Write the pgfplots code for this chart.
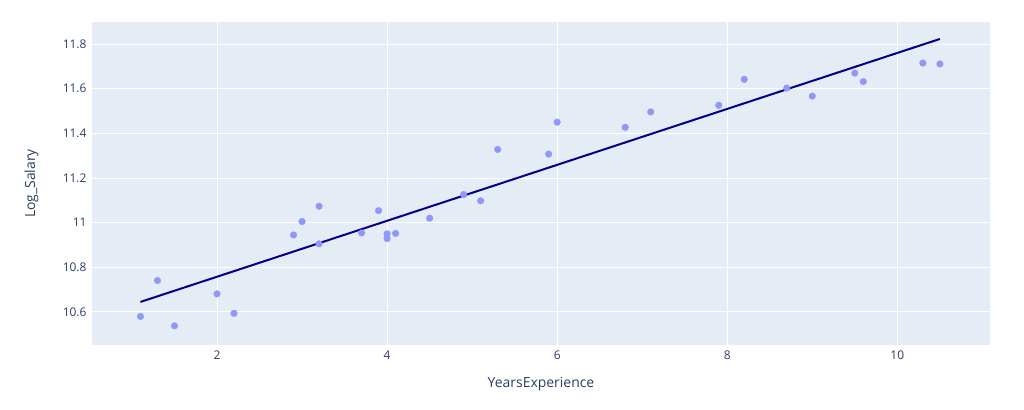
\documentclass[border=0pt]{standalone}
\usepackage{pgfplots}
\pgfplotsset{compat=1.18}
\usepackage{fontspec}
\setmainfont{Open Sans}
\definecolor{plotbg}{HTML}{E5ECF6}
\definecolor{txt}{HTML}{2A3F5F}
\definecolor{mk}{HTML}{8F97F7}
\definecolor{ln}{HTML}{00008B}
\begin{document}
\begin{tikzpicture}[x=1bp,y=1bp]
\useasboundingbox (0,0) rectangle (1024,409);
\begin{axis}[
  at={(92bp,64bp)}, anchor=south west,
  scale only axis, width=898bp, height=323bp,
  xmin=0.53, xmax=11.09, ymin=10.452, ymax=11.899,
  axis background/.style={fill=plotbg},
  axis line style={draw=none},
  major tick length=0pt,
  grid=major, grid style={white, line width=1bp},
  xtick={2,4,6,8,10},
  ytick={10.6,10.8,11,11.2,11.4,11.6,11.8},
  /pgf/number format/assume math mode=true,
  ticklabel style={font=\fontsize{12}{14}\selectfont, text=txt},
  xticklabel style={yshift=-2bp},
  yticklabel style={xshift=-2bp},
  xlabel={YearsExperience}, ylabel={Log\_Salary},
  label style={font=\fontsize{14}{16}\selectfont, text=txt},
  xlabel style={at={(axis description cs:0.5,0)}, anchor=north, yshift=-29bp},
  ylabel style={at={(axis description cs:0,0.5)}, anchor=south, yshift=50bp},
  clip=false,
]
\addplot[only marks, mark=*, color=mk, mark size=3.3bp] coordinates {
(1.1,10.580) (1.3,10.741) (1.5,10.538) (2.0,10.681) (2.2,10.594)
(2.9,10.945) (3.0,11.005) (3.2,10.905) (3.2,11.074) (3.7,10.954)
(3.9,11.054) (4.0,10.929) (4.0,10.950) (4.1,10.952) (4.5,11.020)
(4.9,11.126) (5.1,11.098) (5.3,11.328) (5.9,11.307) (6.0,11.450)
(6.8,11.427) (7.1,11.496) (7.9,11.526) (8.2,11.642) (8.7,11.603)
(9.0,11.567) (9.5,11.670) (9.6,11.632) (10.3,11.715) (10.5,11.711)
};
\addplot[ln, line width=2bp] coordinates {(1.1,10.645) (10.5,11.823)};
\end{axis}
\end{tikzpicture}
\end{document}
